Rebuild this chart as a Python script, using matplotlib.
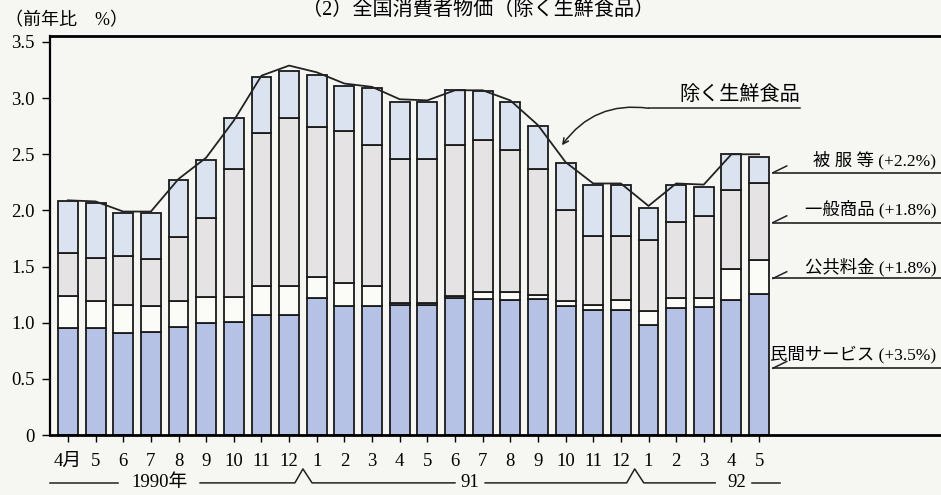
import numpy as np
import matplotlib
matplotlib.use("Agg")
import matplotlib.pyplot as plt
import matplotlib.transforms as mtransforms

# month labels, April 1990 .. May 1992
MONTHS = ["4月", "5", "6", "7", "8", "9", "10", "11", "12",
          "1", "2", "3", "4", "5", "6", "7", "8", "9", "10", "11", "12",
          "1", "2", "3", "4", "5"]

# contributions (percentage points), bottom to top
SERVICE = [0.95, 0.95, 0.91, 0.92, 0.96, 1.00, 1.01, 1.07, 1.07, 1.22, 1.15, 1.15, 1.16,
           1.16, 1.22, 1.21, 1.20, 1.21, 1.15, 1.11, 1.11, 0.98, 1.13, 1.14, 1.20, 1.26]
PUBLIC = [0.29, 0.24, 0.25, 0.23, 0.23, 0.23, 0.22, 0.26, 0.26, 0.19, 0.20, 0.18, 0.02,
          0.02, 0.02, 0.06, 0.07, 0.04, 0.04, 0.05, 0.09, 0.12, 0.09, 0.08, 0.28, 0.30]
GOODS = [0.38, 0.39, 0.43, 0.42, 0.57, 0.70, 1.14, 1.36, 1.49, 1.33, 1.36, 1.25, 1.28,
         1.28, 1.34, 1.36, 1.27, 1.12, 0.81, 0.61, 0.57, 0.64, 0.68, 0.73, 0.70, 0.68]
CLOTHING = [0.46, 0.49, 0.39, 0.41, 0.51, 0.52, 0.45, 0.50, 0.42, 0.47, 0.40, 0.51, 0.51,
            0.51, 0.49, 0.43, 0.43, 0.38, 0.42, 0.46, 0.46, 0.28, 0.33, 0.26, 0.32, 0.24]
# 除く生鮮食品 (y/y %)
TOTAL_LINE = [2.09, 2.08, 1.99, 1.99, 2.28, 2.47, 2.80, 3.20, 3.29, 3.23, 3.13, 3.10, 2.99,
              2.98, 3.07, 3.07, 2.98, 2.76, 2.43, 2.24, 2.24, 2.04, 2.24, 2.23, 2.50, 2.50]

SERIES = [("民間サービス (+3.5%)", SERVICE, "#b5c1e5"),
          ("公共料金 (+1.8%)", PUBLIC, "#fbfbf8"),
          ("一般商品 (+1.8%)", GOODS, "#e5e3e3"),
          ("被 服 等 (+2.2%)", CLOTHING, "#dbe3f0")]
YTICKS = [0, 0.5, 1.0, 1.5, 2.0, 2.5, 3.0, 3.5]
YTICK_LABELS = ["0", "0.5", "1.0", "1.5", "2.0", "2.5", "3.0", "3.5"]
YEARS = [("1990年", 3.33), ("91", 14.55), ("92", 24.2)]

FONT = ["Liberation Serif", "Noto Sans CJK JP"]
BG = "#f6f7f3"
INK = "#222222"

fig = plt.figure(figsize=(9.41, 4.95), dpi=100, facecolor=BG)
ax = fig.add_axes([0.0531, 0.1212, 0.9469, 0.806], facecolor=BG)

x = np.arange(len(MONTHS))
bottom = np.zeros(len(MONTHS))
for label, vals, color in SERIES:
    ax.bar(x, vals, 0.72, bottom=bottom, color=color, edgecolor="#1a1a1a", linewidth=1.3)
    bottom += np.array(vals)

ax.plot(x, TOTAL_LINE, color=INK, lw=1.3)

ax.set_xlim(-0.65, 31.58)
ax.set_ylim(0, 3.553)
ax.set_yticks(YTICKS)
ax.set_yticklabels(YTICK_LABELS, family=FONT, fontsize=13.5)
ax.set_xticks(x)
ax.set_xticklabels(MONTHS, family=FONT, fontsize=13.5)
ax.tick_params(axis="y", length=6, width=1, pad=5)
ax.tick_params(axis="x", length=5, width=1, pad=8)
ax.spines["right"].set_visible(False)
ax.spines["top"].set_linewidth(2)
ax.spines["bottom"].set_linewidth(2)
ax.spines["left"].set_linewidth(1.6)

# right-side series labels with underline leaders
label_y = [(0.72, 0.595), (1.50, 1.394), (2.01, 1.892), (2.45, 2.336)]
for (label, _, _), (ty, ly) in zip(SERIES, label_y):
    ax.text(31.4, ty, label, ha="right", va="center", family=FONT, fontsize=12.5)
    ax.plot([25.5, 31.58], [ly, ly], color=INK, lw=1.2, clip_on=False)
    ax.plot([25.5, 26.0], [ly, ly + 0.06], color=INK, lw=1.1)

# 除く生鮮食品 callout
ax.text(24.3, 3.02, "除く生鮮食品", ha="center", va="center", family=FONT, fontsize=14.5)
ax.plot([21.0, 26.48], [2.91, 2.91], color=INK, lw=1.1)
ax.annotate("", xy=(17.87, 2.58), xytext=(21.0, 2.91),
            arrowprops=dict(arrowstyle="->", connectionstyle="arc3,rad=0.3",
                            lw=1.1, color=INK, shrinkA=0, shrinkB=0))

# year brackets under the month labels
trans = mtransforms.blended_transform_factory(ax.transData, ax.transAxes)
yb, yc = -0.120, -0.085
lines = [([-0.65, 1.81], [yb, yb]),
         ([4.78, 8.21, 8.5, 8.83, 14.0], [yb, yb, yc, yb, yb]),
         ([15.09, 20.21, 20.5, 20.83, 23.41], [yb, yb, yc, yb, yb]),
         ([24.75, 25.76], [yb, yb])]
for lx, ly in lines:
    ax.plot(lx, ly, color=INK, lw=1.1, transform=trans, clip_on=False)
for text, xpos in YEARS:
    ax.text(xpos, yb, text, ha="center", va="center", family=FONT, fontsize=13.5,
            transform=trans)

fig.text(0.005, 0.958, "（前年比　%）", ha="left", va="center", family=FONT, fontsize=13)
fig.text(0.508, 0.998, "（2）全国消費者物価（除く生鮮食品）", ha="center", va="top",
         family=FONT, fontsize=14.5)

fig.savefig("out.png", dpi=100, facecolor=BG)
